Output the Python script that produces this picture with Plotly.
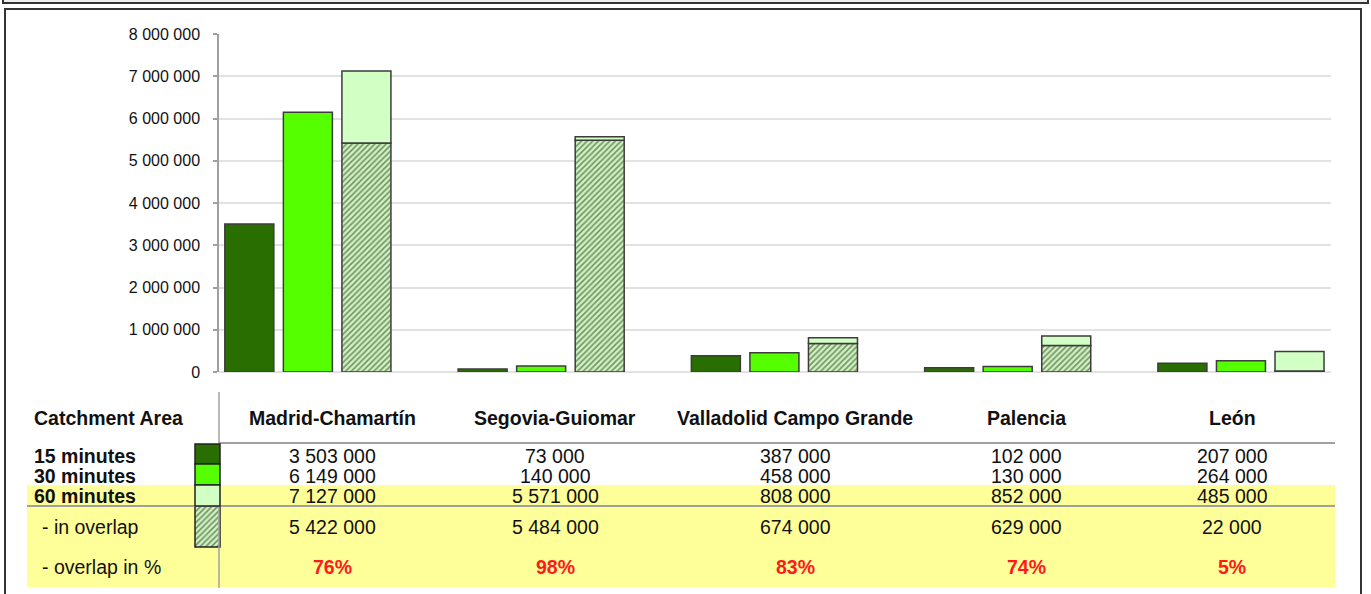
import plotly.graph_objects as go

stations = ["Madrid-Chamartín", "Segovia-Guiomar", "Valladolid Campo Grande", "Palencia", "León"]
min15 = [3503000, 73000, 387000, 102000, 207000]
min30 = [6149000, 140000, 458000, 130000, 264000]
min60 = [7127000, 5571000, 808000, 852000, 485000]
overlap = [5422000, 5484000, 674000, 629000, 22000]
overlap_pct = [76, 98, 83, 74, 5]
row_labels = ["15 minutes", "30 minutes", "60 minutes", "- in overlap", "- overlap in %"]
y_ticks = [0, 1000000, 2000000, 3000000, 4000000, 5000000, 6000000, 7000000, 8000000]

W, H = 1371, 594
C15, C30, C60 = "#286e00", "#55ff00", "#d2ffc4"
EDGE = "#3c3c3c"
FONT = "Liberation Sans, Arial, sans-serif"

hatch = dict(shape="/", fgcolor="#1c281c", bgcolor="#cdf3bb", size=4, solidity=0.38)


def fmt(v):
    return f"{v:,}".replace(",", " ")


# pixel -> paper helpers for the table drawn under the chart
def px(x):
    return x / W


def py(y):
    return 1 - y / H


fig = go.Figure()
fig.add_bar(x=stations, y=min15, offsetgroup="a", marker=dict(color=C15, line=dict(color=EDGE, width=1.5)))
fig.add_bar(x=stations, y=min30, offsetgroup="b", marker=dict(color=C30, line=dict(color=EDGE, width=1.5)))
fig.add_bar(x=stations, y=overlap, offsetgroup="c",
            marker=dict(color="#cdf3bb", pattern=hatch, line=dict(color=EDGE, width=1.5)))
fig.add_bar(x=stations, y=[a - b for a, b in zip(min60, overlap)], base=overlap, offsetgroup="c",
            marker=dict(color=C60, line=dict(color=EDGE, width=1.5)))

# hatched legend swatch of the table (drawn on a full-page helper axis)
fig.add_scatter(x=[195, 220, 220, 195, 195], y=[506, 506, 547, 547, 506], xaxis="x2", yaxis="y2",
                mode="lines", fill="toself", fillcolor="#cdf3bb", fillpattern=hatch,
                line=dict(color="#222", width=1.5), hoverinfo="skip")

fig.update_traces(hoverinfo="skip", selector=dict(type="bar"))

shapes = []


def rect(x0, x1, y0, y1, **kw):
    shapes.append(dict(type="rect", xref="paper", yref="paper", x0=px(x0), x1=px(x1),
                       y0=py(y0), y1=py(y1), **kw))


def line(x0, x1, y0, y1, **kw):
    shapes.append(dict(type="line", xref="paper", yref="paper", x0=px(x0), x1=px(x1),
                       y0=py(y0), y1=py(y1), **kw))


# outer frames
rect(3, 1368, -10, 3, fillcolor="#eeeeee", line=dict(color="#333", width=2), layer="below")
rect(5, 1361, 9, 610, fillcolor="rgba(0,0,0,0)", line=dict(color="#333", width=2), layer="below")
# yellow highlight of the table
rect(27, 1335, 485, 587, fillcolor="#ffff99", line=dict(width=0), layer="below")
# table rules
line(219, 219, 392, 588, line=dict(color="#a0a0a0", width=1.5))
line(219, 1335, 443, 443, line=dict(color="#a0a0a0", width=2))
line(27, 1335, 506, 506, line=dict(color="#a0a0a0", width=2))
# colour swatches
for col, y0, y1 in [(C15, 444, 464), (C30, 464, 485), (C60, 485, 506)]:
    rect(195, 220, y0, y1, fillcolor=col, line=dict(color="#222", width=1.5))

col_x = [332, 555, 795, 1026, 1232]
row_y = [456, 476, 496, 527, 567]

ann = []


def txt(x, y, s, size=19.5, bold=False, color="#111", anchor="center"):
    ann.append(dict(x=px(x), y=py(y), xref="paper", yref="paper", text=s, showarrow=False,
                    xanchor=anchor, yanchor="middle",
                    font=dict(family=FONT, size=size, color=color,
                              weight="bold" if bold else "normal")))


txt(32, 418, "Catchment Area", bold=True, anchor="left")
for i, s in enumerate(stations):
    txt(col_x[i], 418, s, bold=True)
for j, lab in enumerate(row_labels):
    bold = j < 3
    txt(32 if bold else 40, row_y[j], lab, bold=bold, anchor="left")
for i in range(len(stations)):
    for j, series in enumerate([min15, min30, min60, overlap]):
        txt(col_x[i], row_y[j], fmt(series[i]))
    txt(col_x[i], row_y[4], f"{overlap_pct[i]}%", bold=True, color="#ff1a1a")

fig.update_layout(
    width=W, height=H,
    margin=dict(l=0, r=0, t=0, b=0, pad=0, autoexpand=False),
    paper_bgcolor="white", plot_bgcolor="rgba(0,0,0,0)",
    showlegend=False,
    barmode="group", bargap=0.247, bargroupgap=0.163,
    separators=". ",
    font=dict(family=FONT, color="#111"),
    shapes=shapes, annotations=ann,
    xaxis=dict(domain=[219 / W, 1331 / W], range=[-0.381, 4.386], showticklabels=False,
               showgrid=False, zeroline=False, showline=False, ticks=""),
    yaxis=dict(domain=[1 - 372 / H, 1 - 34 / H], range=[0, 8000000], tickvals=y_ticks,
               tickformat=",d", showline=True, linecolor="#a0a0a0", linewidth=1.5,
               ticks="outside", ticklen=4, tickcolor="#a0a0a0", tickwidth=1.5,
               gridcolor="#e2e2e2", gridwidth=1.5, zeroline=True, zerolinecolor="#e2e2e2",
               zerolinewidth=1.5, tickfont=dict(family=FONT, size=16, color="#111"),
               ticklabelstandoff=10),
    xaxis2=dict(domain=[0, 1], range=[0, W], visible=False, anchor="y2", fixedrange=True),
    yaxis2=dict(domain=[0, 1], range=[H, 0], visible=False, anchor="x2", fixedrange=True),
)

fig.write_html("out.html", config={"displayModeBar": False},
               post_script="document.body.style.margin='0';document.body.style.overflow='hidden';")
